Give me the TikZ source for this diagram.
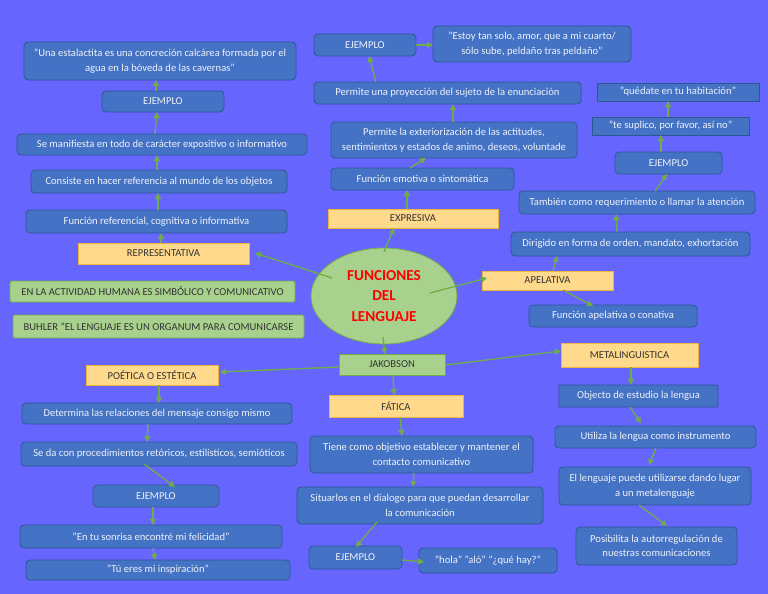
\documentclass[tikz,border=0pt]{standalone}
\usepackage{fontspec}
\setmainfont{Carlito}
\usetikzlibrary{arrows.meta,shapes.geometric}
\definecolor{bgc}{HTML}{6666FF}
\definecolor{bluef}{HTML}{4472C4}
\definecolor{blued}{HTML}{2F5597}
\definecolor{yelf}{HTML}{FFD98C}
\definecolor{yeld}{HTML}{F2B33D}
\definecolor{grf}{HTML}{A9D18E}
\definecolor{grd}{HTML}{70AD47}
\definecolor{arrc}{HTML}{70AD47}
\definecolor{txtw}{HTML}{EEF2FA}
\definecolor{txtd}{HTML}{333333}
\newcommand{\myarrow}[4]{\draw[arr] ([shift={#2}]#1.center) -- ([shift={#4}]#3.center);}
\tikzset{
  base/.style={inner sep=1pt, align=center, font=\fontsize{10.6}{14.5}\selectfont},
  bluebox/.style={base, fill=bluef, draw=blued, line width=0.8pt, rounded corners=4pt, text=txtw},
  sqbox/.style={bluebox, rounded corners=1pt},
  yelbox/.style={base, fill=yelf, draw=yeld, line width=0.9pt, text=txtd},
  grbox/.style={base, fill=grf, draw=grd, line width=0.9pt, rounded corners=1.5pt, text=txtd},
  arr/.style={draw=arrc, line width=1.3pt, -{Triangle[length=6pt,width=6pt]}},
}
\begin{document}
\begin{tikzpicture}[x=1pt,y=-1pt]
\fill[bgc] (0,0) rectangle (768,594);
\useasboundingbox (0,0) rectangle (768,594);

% left column
\node[bluebox, minimum width=272, minimum height=38] (quote1) at (160,61) {"Una estalactita es una concreción calcárea formada por el\\agua en la bóveda de las cavernas"};
\node[bluebox, minimum width=122, minimum height=21] (ej1) at (163,101.5) {EJEMPLO};
\node[bluebox, minimum width=290, minimum height=21] (manif) at (162,144.5) {Se manifiesta en todo de carácter expositivo o informativo};
\node[bluebox, minimum width=256, minimum height=23] (consiste) at (159,181.5) {Consiste en hacer referencia al mundo de los objetos};
\node[bluebox, minimum width=261, minimum height=23] (funcref) at (156.5,221.5) {Función referencial, cognitiva o informativa};
\node[yelbox, minimum width=171, minimum height=21] (repres) at (163.5,253.5) {REPRESENTATIVA};
\node[grbox, minimum width=285, minimum height=21] (green1) at (152.5,291.5) {EN LA ACTIVIDAD HUMANA ES SIMBÓLICO Y COMUNICATIVO};
\node[grbox, minimum width=291, minimum height=23] (green2) at (158.5,326.5) {BUHLER "EL LENGUAJE ES UN ORGANUM PARA COMUNICARSE};
\node[yelbox, minimum width=132, minimum height=20] (poetica) at (152,375) {POÉTICA O ESTÉTICA};
\node[bluebox, minimum width=270, minimum height=21] (determina) at (157,413.5) {Determina las relaciones del mensaje consigo mismo};
\node[bluebox, minimum width=276, minimum height=24] (seda) at (159,454) {Se da con procedimientos retóricos, estilísticos, semióticos};
\node[bluebox, minimum width=126, minimum height=22] (ejpoet) at (156,496) {EJEMPLO};
\node[bluebox, minimum width=262, minimum height=23] (sonrisa) at (151,536.5) {"En tu sonrisa encontré mi felicidad"};
\node[bluebox, minimum width=264, minimum height=20] (tueres) at (158,570) {"Tú eres mi inspiración"};

% center
\node[ellipse, fill=grf, draw=grd, line width=0.8pt, minimum width=146, minimum height=96, inner sep=0pt, align=center, text=red, font=\bfseries\fontsize{15.2}{20.5}\selectfont] (ell) at (384,296) {FUNCIONES\\DEL\\LENGUAJE};
\node[grbox, rounded corners=0pt, minimum width=106, minimum height=21] (jak) at (392,364.5) {JAKOBSON};
\node[yelbox, minimum width=170, minimum height=19] (expresiva) at (413,218.5) {EXPRESIVA};
\node[yelbox, minimum width=131, minimum height=19] (apel) at (547.5,280.5) {APELATIVA};
\node[yelbox, minimum width=137, minimum height=24] (meta) at (629.5,355) {METALINGUISTICA};
\node[yelbox, minimum width=134, minimum height=22] (fatica) at (396,406) {FÁTICA};

% top middle
\node[bluebox, minimum width=102, minimum height=22] (ejexp) at (365,45) {EJEMPLO};
\node[bluebox, minimum width=198, minimum height=36] (estoy) at (532,44) {"Estoy tan solo, amor, que a mi cuarto/\\sólo sube, peldaño tras peldaño"};
\node[bluebox, minimum width=267, minimum height=22] (proy) at (447.5,93) {Permite una proyección del sujeto de la enunciación};
\node[bluebox, minimum width=246, minimum height=36] (exter) at (454,140) {Permite la exteriorización de las actitudes,\\sentimientos y estados de animo, deseos, voluntade};
\node[bluebox, minimum width=183, minimum height=22] (emotiva) at (422.5,179) {Función emotiva o sintomática};

% right
\node[sqbox, rounded corners=0pt, minimum width=162, minimum height=18] (quedate) at (678,92) {"quédate en tu habitación"};
\node[sqbox, rounded corners=0pt, minimum width=157, minimum height=18] (suplico) at (670.5,126) {"te suplico, por favor, así no"};
\node[bluebox, minimum width=107, minimum height=22] (ejapel) at (668.5,163) {EJEMPLO};
\node[bluebox, minimum width=236, minimum height=23] (tambien) at (637,202.5) {También como requerimiento o llamar la atención};
\node[bluebox, minimum width=239, minimum height=24] (dirigido) at (630.5,244) {Dirigido en forma de orden, mandato, exhortación};
\node[bluebox, minimum width=168, minimum height=22] (funapel) at (613,316) {Función apelativa o conativa};
\node[sqbox, minimum width=159, minimum height=22] (objecto) at (638.5,396) {Objecto de estudio la lengua};
\node[bluebox, minimum width=201, minimum height=22] (utiliza) at (655.5,437) {Utiliza la lengua como instrumento};
\node[bluebox, minimum width=192, minimum height=38] (lengp) at (655,486) {El lenguaje puede utilizarse dando lugar\\a un metalenguaje};
\node[bluebox, minimum width=161, minimum height=38] (posib) at (656.5,546) {Posibilita la autorregulación de\\nuestras comunicaciones};

% fatica column
\node[bluebox, minimum width=223, minimum height=37] (tiene) at (421.5,454.5) {Tiene como objetivo establecer y mantener el\\contacto comunicativo};
\node[bluebox, minimum width=246, minimum height=37] (situar) at (420,505.5) {Situarlos en el dialogo para que puedan desarrollar\\la comunicación};
\node[bluebox, minimum width=93, minimum height=23] (ejfat) at (355.5,557.5) {EJEMPLO};
\node[bluebox, minimum width=138, minimum height=25] (hola) at (488,560.5) {"hola" "aló" "¿qué hay?"};

% connectors
\myarrow{ell}{(-52,-18)}{repres}{(91.5,-0.5)}
\myarrow{repres}{(-2.5,-10.5)}{funcref}{(4.5,11.5)}
\myarrow{funcref}{(1.5,-11.5)}{consiste}{(-1,11.5)}
\myarrow{consiste}{(-2,-11.5)}{manif}{(-5,10.5)}
\myarrow{manif}{(-7,-10.5)}{ej1}{(-6,10.5)}
\myarrow{ej1}{(-7,-10.5)}{quote1}{(-4,19)}
\myarrow{ell}{(0,-44)}{expresiva}{(-19,9.5)}
\myarrow{expresiva}{(-6,-9.5)}{emotiva}{(-15.5,11)}
\myarrow{emotiva}{(-12.5,-11)}{exter}{(-28,18)}
\myarrow{exter}{(-1,-18)}{proy}{(5.5,11)}
\myarrow{proy}{(-71.5,-11)}{ejexp}{(4,11)}
\myarrow{ejexp}{(51,0)}{estoy}{(-99,1)}
\myarrow{ell}{(46,-3)}{apel}{(-60.5,-2.5)}
\myarrow{apel}{(5.5,-9.5)}{dirigido}{(-73.5,12)}
\myarrow{dirigido}{(-13.5,-12)}{tambien}{(-21,11.5)}
\myarrow{tambien}{(18,-11.5)}{ejapel}{(-1.5,11)}
\myarrow{ejapel}{(-7.5,-11)}{suplico}{(-9.5,9)}
\myarrow{suplico}{(-2.5,-9)}{quedate}{(-10,9)}
\myarrow{apel}{(15.5,9.5)}{funapel}{(-20,-10)}
\myarrow{ell}{(-1,41)}{jak}{(-7,-10.5)}
\myarrow{jak}{(-53,2.5)}{poetica}{(68,-3)}
\myarrow{poetica}{(7,10)}{determina}{(2,-10.5)}
\myarrow{determina}{(-9,10.5)}{seda}{(-12,-12)}
\myarrow{seda}{(-15,10)}{ejpoet}{(19,-9)}
\myarrow{ejpoet}{(-3,11)}{sonrisa}{(2,-11.5)}
\myarrow{sonrisa}{(2,11.5)}{tueres}{(-3,-10)}
\myarrow{jak}{(1,10.5)}{fatica}{(-2,-11)}
\myarrow{fatica}{(4,11)}{tiene}{(-19.5,-18.5)}
\myarrow{tiene}{(-7.5,18.5)}{situar}{(-7,-18.5)}
\myarrow{situar}{(-43,16.5)}{ejfat}{(0.5,-10.5)}
\myarrow{ejfat}{(46.5,2.5)}{hola}{(-64,1.5)}
\myarrow{jak}{(53,0.5)}{meta}{(-68.5,-4)}
\myarrow{meta}{(1.5,12)}{objecto}{(-7.5,-11)}
\myarrow{objecto}{(-8.5,11)}{utiliza}{(-14.5,-14)}
\myarrow{utiliza}{(0.5,11)}{lengp}{(-6,-21)}
\myarrow{lengp}{(-16,19)}{posib}{(10.5,-20)}
\end{tikzpicture}
\end{document}
